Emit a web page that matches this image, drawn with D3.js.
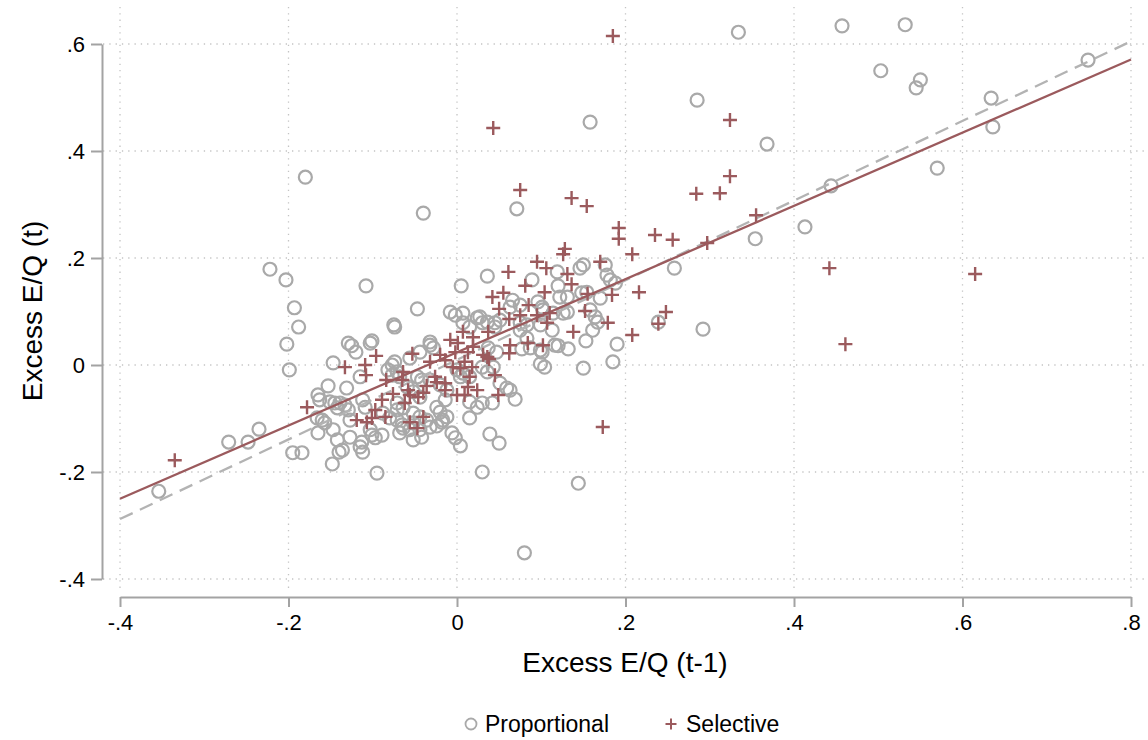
<!DOCTYPE html>
<html>
<head>
<meta charset="utf-8">
<script src="https://cdn.jsdelivr.net/npm/d3@7"></script>
<style>
  body { margin: 0; background: #fff; }
  svg { display: block; font-family: "Liberation Sans", Arial, Helvetica, sans-serif; }
</style>
</head>
<body>
<div id="chart"></div>
<script>
// Excess E/Q persistence scatter: proportional vs selective

const xTicks = [-0.4, -0.2, 0, 0.2, 0.4, 0.6, 0.8];
const yTicks = [-0.4, -0.2, 0, 0.2, 0.4, 0.6];

const proportional = [
  [-0.354,-0.236],[-0.271,-0.144],[-0.248,-0.144],[-0.235,-0.120],[-0.222,0.179],[-0.203,0.159],
  [-0.202,0.039],[-0.199,-0.009],[-0.193,0.107],[-0.188,0.071],[-0.180,0.351],[-0.195,-0.164],
  [-0.184,-0.164],[-0.108,0.148],[-0.040,0.284],[0.005,0.148],[0.071,0.292],[0.158,0.454],
  [0.285,0.495],[0.334,0.622],[0.368,0.413],[0.413,0.258],[0.354,0.236],[0.292,0.067],
  [0.258,0.181],[0.239,0.080],[0.444,0.335],[0.457,0.634],[0.503,0.550],[0.545,0.518],
  [0.550,0.533],[0.532,0.636],[0.570,0.368],[0.634,0.499],[0.636,0.445],[0.749,0.570],
  [0.080,-0.351],[0.144,-0.221],[0.030,-0.200],[-0.095,-0.202],[0.050,-0.146],[0.039,-0.129],
  [0.004,-0.151],[0.185,0.006],[0.190,0.039],[0.150,-0.006],
  [-0.147,0.004],[-0.153,-0.039],[-0.165,-0.056],[-0.163,-0.065],[-0.151,-0.069],[-0.145,-0.071],
  [-0.166,-0.099],[-0.160,-0.103],[-0.157,-0.108],[-0.165,-0.127],[-0.147,-0.121],[-0.142,-0.140],
  [-0.140,-0.163],[-0.148,-0.185],
  [-0.047,0.105],[-0.075,0.075],[-0.008,0.099],[-0.002,0.093],[0.007,0.097],[0.024,0.088],
  [0.030,0.079],[0.036,0.166],
  [0.089,0.159],[0.119,0.174],[0.120,0.148],[0.146,0.181],[0.150,0.187],[0.176,0.187],
  [0.178,0.168],[0.182,0.159],[0.188,0.153],[0.122,0.127],[0.131,0.127],[0.148,0.135],
  [0.154,0.136],[0.170,0.125],[0.066,0.121],[0.063,0.108],[0.075,0.112],[0.096,0.118],
  [0.101,0.108],[0.102,0.103],[0.126,0.097],[0.131,0.099],[0.158,0.103],[0.164,0.090],
  [0.167,0.080],[0.027,0.090],[0.036,0.080],[0.045,0.079],[0.051,0.084],[0.075,0.079],
  [0.083,0.075],[0.099,0.075],
  [0.153,0.045],[0.132,0.030],[0.120,0.036],[0.099,0.002],[0.104,-0.004],[0.063,-0.047],
  [0.069,-0.064],[0.042,-0.071],[0.161,0.065],[0.083,0.050],[0.077,0.030],[0.099,0.028],
  [0.116,0.037],
  [-0.074,0.071],[-0.101,0.045],[-0.125,0.036],[-0.120,0.024],[-0.131,-0.043],[-0.115,-0.022],
  [-0.077,0.000],[-0.074,0.006],[-0.082,-0.009],[-0.071,-0.013],[-0.032,0.043],[-0.032,0.037],
  [-0.056,0.013],[-0.139,-0.071],[-0.142,-0.080],[-0.133,-0.075],[-0.129,-0.084],[-0.112,-0.065],
  [-0.109,-0.079],[-0.127,-0.103],[-0.136,-0.159],[-0.115,-0.153],[-0.112,-0.163],[-0.103,-0.121],
  [-0.101,-0.131],[-0.097,-0.136],[-0.089,-0.131],[-0.068,-0.127],[-0.064,-0.118],[-0.052,-0.140],
  [-0.042,-0.135],[-0.032,-0.116],[-0.024,-0.114],[-0.017,-0.103],[-0.012,-0.097],[-0.006,-0.127],
  [-0.002,-0.136],[0.015,-0.099],[0.024,-0.079],[0.015,-0.069],[-0.047,-0.022],[-0.032,-0.028],
  [-0.020,-0.037],[-0.012,-0.047],[-0.059,-0.041],[-0.052,-0.050],[-0.044,-0.060],[-0.071,-0.071],
  [-0.064,-0.080],[-0.052,-0.090],[-0.044,-0.097],[-0.036,-0.103],[-0.071,-0.103],[-0.065,-0.112],
  [-0.056,-0.121],[-0.024,-0.079],[-0.020,-0.088],[-0.088,-0.090],[-0.080,-0.099],[-0.071,-0.084],
  [0.000,-0.009],[0.007,-0.015],[0.015,-0.022],[0.007,0.079],[0.015,0.071],[0.030,-0.071],
  [0.045,0.071],[0.075,0.065],[0.114,0.097],[0.113,0.065],[0.101,0.024],[0.087,0.032],
  [-0.028,0.032],[0.037,0.032],[0.047,0.024],[0.043,-0.004],[-0.044,0.024],[0.030,-0.004],
  [0.036,-0.013],[0.051,-0.034],[0.059,-0.043],[0.004,-0.022],
  [-0.129,0.041],[-0.103,0.041],[-0.077,-0.019],[-0.068,-0.022],[-0.042,-0.028],[-0.052,-0.108],
  [-0.044,-0.121],[-0.018,-0.107],[-0.127,-0.135],[-0.113,-0.144],[-0.014,-0.065]
];

const selective = [
  [0.185,0.615],[0.043,0.443],[0.075,0.327],[0.136,0.312],[0.154,0.297],[0.192,0.256],
  [0.192,0.236],[0.208,0.207],[0.128,0.217],[0.126,0.207],[0.095,0.193],[0.106,0.181],
  [0.061,0.174],[0.131,0.170],[0.136,0.151],[0.170,0.193],[0.081,0.148],[0.042,0.127],
  [0.055,0.135],[0.104,0.136],[0.155,0.133],[0.184,0.131],[0.216,0.136],[0.050,0.105],
  [0.085,0.112],[0.075,0.093],[0.062,0.086],[0.152,0.101],[0.095,0.093],[0.110,0.097],
  [0.107,0.079],[0.179,0.079],[0.324,0.458],[0.324,0.353],[0.284,0.320],[0.312,0.321],
  [0.355,0.280],[0.235,0.243],[0.256,0.234],[0.297,0.228],[0.248,0.099],[0.239,0.077],
  [0.208,0.056],[0.442,0.181],[0.461,0.039],[0.615,0.170],[0.138,0.062],[0.173,-0.116],
  [0.063,0.037],[0.062,0.022],[0.084,0.041],[0.102,0.037],[0.045,-0.019],[0.049,-0.056],
  [0.038,0.011],[0.031,0.019],[0.007,0.062],[-0.008,0.047],[0.001,0.041],[0.019,0.052],
  [0.019,0.034],[0.037,0.062],[-0.032,0.006],[-0.020,0.019],[-0.014,0.009],[-0.002,0.024],
  [0.013,0.024],[-0.005,-0.004],[0.004,-0.006],[0.009,0.006],[0.018,-0.004],[-0.026,-0.022],
  [-0.014,-0.034],[0.015,-0.022],[0.013,-0.041],[-0.036,-0.039],[-0.133,-0.004],[-0.109,0.000],
  [-0.108,-0.019],[-0.096,0.017],[-0.053,0.021],[-0.084,-0.028],[-0.064,-0.013],[-0.065,-0.028],
  [-0.024,-0.032],[-0.014,-0.047],[-0.076,-0.054],[-0.058,-0.047],[-0.056,-0.056],[-0.046,-0.060],
  [-0.040,-0.052],[-0.089,-0.065],[-0.062,-0.071],[-0.097,-0.084],[-0.085,-0.097],[-0.119,-0.103],
  [-0.107,-0.107],[-0.101,-0.099],[-0.056,-0.107],[-0.040,-0.097],[-0.047,-0.118],[-0.178,-0.079],
  [-0.335,-0.178],[0.000,-0.056],[0.009,-0.056],[0.024,-0.047],[0.036,0.015]
];

// fitted lines (end points at the x-range limits)
const fitSelective = [[-0.4, -0.250], [0.8, 0.571]];
const fitProportional = [[-0.4, -0.288], [0.8, 0.605]];

const legendItems = ["Proportional", "Selective"];

const W = 1148, H = 740;
const greyCol = "#a9a9a9";
const redCol = "#9b5a5d";
const axisCol = "#a3a3a3";
const gridCol = "#c4c4c4";

// Stata-style labels: ".2", "-.4", "0"
const fmt = d => {
  if (Math.abs(d) < 1e-9) return "0";
  const s = Math.abs(d).toFixed(1).replace(/^0/, "");
  return (d < 0 ? "-" : "") + s;
};

const svg = d3.select("#chart").append("svg")
  .attr("width", W)
  .attr("height", H);

const x = d3.scaleLinear().domain([-0.4, 0.8]).range([120, 1131]);
const y = d3.scaleLinear().domain([-0.4, 0.6]).range([579, 44]);

const plotLeft = 103, plotRight = 1146, plotTop = 7, plotBottom = 590;

// grid lines
const grid = svg.append("g").attr("class", "grid")
  .attr("stroke", gridCol)
  .attr("stroke-width", 1.3)
  .attr("stroke-dasharray", "1.3,5");

grid.selectAll(".gx")
  .data(xTicks)
  .enter().append("line")
  .attr("x1", d => x(d)).attr("x2", d => x(d))
  .attr("y1", plotTop).attr("y2", plotBottom);

grid.selectAll(".gy")
  .data(yTicks)
  .enter().append("line")
  .attr("y1", d => y(d)).attr("y2", d => y(d))
  .attr("x1", plotLeft).attr("x2", plotRight);

// axes
const yAxis = svg.append("g")
  .attr("transform", "translate(102,0)")
  .call(d3.axisLeft(y).tickValues(yTicks).tickFormat(fmt).tickSize(11).tickSizeOuter(0).tickPadding(6));

const xAxis = svg.append("g")
  .attr("transform", "translate(0,597)")
  .call(d3.axisBottom(x).tickValues(xTicks).tickFormat(fmt).tickSize(10).tickSizeOuter(0).tickPadding(7));

[yAxis, xAxis].forEach(ax => {
  ax.select(".domain").attr("stroke", axisCol).attr("stroke-width", 2);
  ax.selectAll(".tick line").attr("stroke", axisCol).attr("stroke-width", 2);
  ax.selectAll(".tick text")
    .attr("fill", "#000")
    .style("font-size", "22px")
    .style("font-family", "'Liberation Sans', Arial, Helvetica, sans-serif");
});

// axis titles
svg.append("text")
  .attr("x", 625)
  .attr("y", 672)
  .attr("text-anchor", "middle")
  .style("font-size", "28px")
  .text("Excess E/Q (t-1)");

svg.append("text")
  .attr("transform", "translate(42,311) rotate(-90)")
  .attr("text-anchor", "middle")
  .style("font-size", "28px")
  .text("Excess E/Q (t)");

// markers
svg.append("g").selectAll("circle")
  .data(proportional)
  .enter().append("circle")
  .attr("cx", d => x(d[0]))
  .attr("cy", d => y(d[1]))
  .attr("r", 6.5)
  .attr("fill", "none")
  .attr("stroke", greyCol)
  .attr("stroke-width", 2.2);

const line = d3.line().x(d => x(d[0])).y(d => y(d[1]));

svg.append("path")
  .datum(fitProportional)
  .attr("d", line)
  .attr("fill", "none")
  .attr("stroke", "#b3b3b3")
  .attr("stroke-width", 2.3)
  .attr("stroke-dasharray", "14,8");

svg.append("path")
  .datum(fitSelective)
  .attr("d", line)
  .attr("fill", "none")
  .attr("stroke", redCol)
  .attr("stroke-width", 2.3);

const plus = "M-7,0H7M0,-7V7";
svg.append("g").selectAll("path")
  .data(selective)
  .enter().append("path")
  .attr("d", plus)
  .attr("transform", d => `translate(${x(d[0])},${y(d[1])})`)
  .attr("fill", "none")
  .attr("stroke", redCol)
  .attr("stroke-width", 2.4);

// legend
const legend = svg.append("g").attr("transform", "translate(0,724)");
legend.append("circle")
  .attr("cx", 471).attr("cy", 0).attr("r", 5.5)
  .attr("fill", "none").attr("stroke", greyCol).attr("stroke-width", 1.8);
legend.append("text")
  .attr("x", 485).attr("y", 8)
  .style("font-size", "23px")
  .text(legendItems[0]);
legend.append("path")
  .attr("d", "M-5.5,0H5.5M0,-5.5V5.5")
  .attr("transform", "translate(671,0)")
  .attr("stroke", redCol).attr("stroke-width", 2);
legend.append("text")
  .attr("x", 686).attr("y", 8)
  .style("font-size", "23px")
  .text(legendItems[1]);
</script>
</body>
</html>
